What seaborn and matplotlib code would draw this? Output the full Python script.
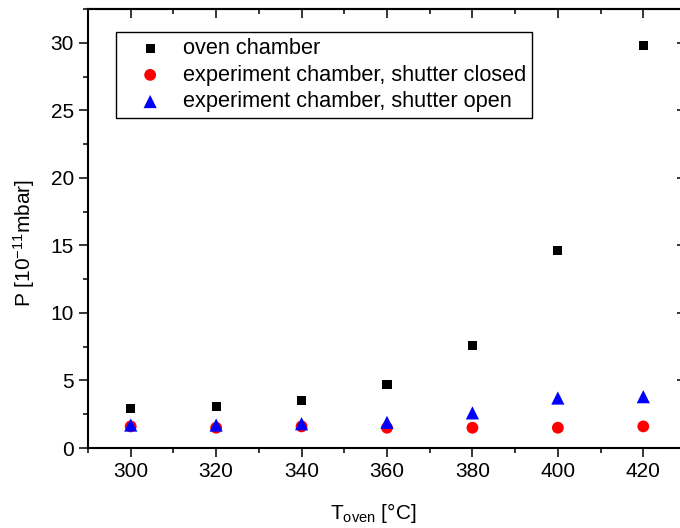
import matplotlib
matplotlib.use("Agg")
import matplotlib.pyplot as plt
from matplotlib.ticker import MultipleLocator
import seaborn as sns
import pandas as pd

temps = [300, 320, 340, 360, 380, 400, 420]
oven = [2.9, 3.1, 3.5, 4.7, 7.6, 14.6, 29.8]
closed = [1.6, 1.5, 1.6, 1.5, 1.5, 1.5, 1.6]
open_ = [1.7, 1.7, 1.8, 1.9, 2.6, 3.7, 3.8]
labels = ["oven chamber", "experiment chamber, shutter closed", "experiment chamber, shutter open"]
x_ticks = [300, 320, 340, 360, 380, 400, 420]
y_ticks = [0, 5, 10, 15, 20, 25, 30]

sns.set_style("ticks")
plt.rcParams["font.family"] = ["Liberation Sans", "DejaVu Sans"]
plt.rcParams["mathtext.fontset"] = "custom"
plt.rcParams["mathtext.rm"] = "Liberation Sans"
plt.rcParams["mathtext.it"] = "Liberation Sans"
for k in ["text.color", "axes.labelcolor", "xtick.color", "ytick.color", "axes.edgecolor"]:
    plt.rcParams[k] = "black"

fig = plt.figure(figsize=(6.8, 5.28), dpi=100)
ax = fig.add_axes([88/680, 80/528, 598/680, 439/528])

specs = [(oven, "s", "black", 6.5), (closed, "o", "red", 8.5), (open_, "^", "blue", 9.5)]
for (vals, m, c, s), lab in zip(specs, labels):
    df = pd.DataFrame({"T": temps, "P": vals})
    sns.scatterplot(data=df, x="T", y="P", marker=m, color=c, s=s**2,
                    edgecolor="none", linewidth=0, label=lab, ax=ax, zorder=3)

ax.set_xlim(290, 430)
ax.set_ylim(0, 32.5)
ax.set_xticks(x_ticks)
ax.set_yticks(y_ticks)
ax.xaxis.set_minor_locator(MultipleLocator(10))
ax.yaxis.set_minor_locator(MultipleLocator(2.5))
ax.tick_params(which="major", direction="out", length=6.5, width=1.1, labelsize=15,
               color="black", labelcolor="black")
ax.tick_params(which="minor", direction="out", length=3.5, width=1.1, color="black")
for sp in ax.spines.values():
    sp.set_visible(True)
    sp.set_linewidth(1.5)
    sp.set_color("black")

secx = ax.secondary_xaxis("top")
secx.set_xticks(x_ticks)
secx.xaxis.set_minor_locator(MultipleLocator(10))
secx.tick_params(which="major", direction="in", length=6.5, width=1.1, labeltop=False, color="black")
secx.tick_params(which="minor", direction="in", length=3.5, width=1.1, color="black")
secx.spines["top"].set_linewidth(1.5)

secy = ax.secondary_yaxis("right")
secy.set_yticks(y_ticks)
secy.yaxis.set_minor_locator(MultipleLocator(2.5))
secy.tick_params(which="major", direction="in", length=6.5, width=1.1, labelright=False, color="black")
secy.tick_params(which="minor", direction="in", length=3.5, width=1.1, color="black")
secy.spines["right"].set_linewidth(1.5)

ax.set_xlabel(r"T$_{\rm oven}$ [°C]", fontsize=15, color="black")
ax.set_ylabel(r"P [10$^{-11}$mbar]", fontsize=15, color="black")
ax.xaxis.set_label_coords(0.477, -0.12)
ax.yaxis.set_label_coords(-0.085, 0.467)

leg = ax.legend(loc="upper left", bbox_to_anchor=(0.0463, 0.948), fontsize=15.7,
                frameon=True, fancybox=False, edgecolor="black", framealpha=1,
                borderpad=0.28, labelspacing=0.26, handletextpad=0.2, borderaxespad=0,
                handlelength=2.6)
leg.get_frame().set_linewidth(1.0)
for t in leg.get_texts():
    t.set_color("black")

fig.savefig("out.png", dpi=100)
